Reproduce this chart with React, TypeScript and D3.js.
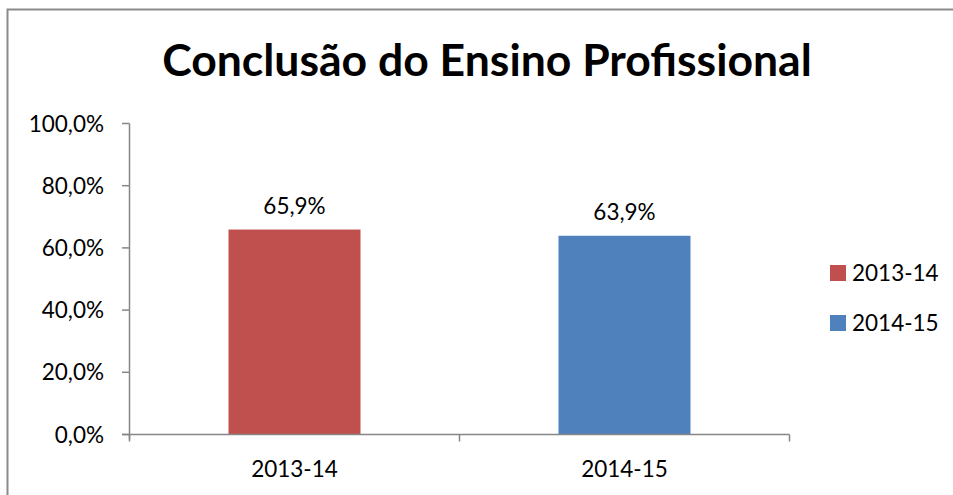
import React, { useEffect, useRef } from 'react';
import * as d3 from 'd3';

const categories = ['2013-14', '2014-15'];
const values = [0.659, 0.639];
const colors = ['#C0504D', '#4F81BD'];
const yTicks = [0, 0.2, 0.4, 0.6, 0.8, 1.0];

const fmt = (v: number) => (v * 100).toFixed(1).replace('.', ',') + '%';

const App = () => {
  const ref = useRef<SVGSVGElement>(null);

  useEffect(() => {
    const svg = d3.select(ref.current);
    svg.selectAll('*').remove();

    const font = 'Lato, "Open Sans", sans-serif';
    const axisColor = '#868686';
    const fs = 22.5;

    // chart border
    svg.append('rect')
      .attr('x', 7.5).attr('y', 9.5)
      .attr('width', 960).attr('height', 500)
      .attr('fill', 'white').attr('stroke', '#8a8a8a').attr('stroke-width', 2);

    // title
    svg.append('text')
      .attr('x', 487).attr('y', 76)
      .attr('text-anchor', 'middle')
      .attr('font-family', font).attr('font-weight', 'bold').attr('font-size', 44.5)
      .attr('fill', '#000')
      .text('Conclusão do Ensino Profissional');

    const x = d3.scaleBand().domain(categories).range([129.5, 789.5]).paddingInner(0).paddingOuter(0);
    const y = d3.scaleLinear().domain([0, 1]).range([434.5, 123.5]);
    const barW = x.bandwidth() / 2.5;

    // y axis
    svg.append('line')
      .attr('x1', 129.5).attr('x2', 129.5).attr('y1', y(1)).attr('y2', y(0) + 5)
      .attr('stroke', axisColor).attr('stroke-width', 1.5);
    svg.selectAll('.ytick').data(yTicks).enter().append('line')
      .attr('x1', 122).attr('x2', 129.5).attr('y1', (d) => y(d)).attr('y2', (d) => y(d))
      .attr('stroke', axisColor).attr('stroke-width', 1.5);
    svg.selectAll('.ylab').data(yTicks).enter().append('text')
      .attr('x', 104).attr('y', (d) => y(d) + 8)
      .attr('text-anchor', 'end')
      .attr('font-family', font).attr('font-size', fs)
      .text((d) => fmt(d));

    // bars
    svg.selectAll('.bar').data(categories).enter().append('rect')
      .attr('x', (d) => (x(d) as number) + (x.bandwidth() - barW) / 2)
      .attr('y', (d, i) => y(values[i]))
      .attr('width', barW)
      .attr('height', (d, i) => y(0) - y(values[i]))
      .attr('fill', (d, i) => colors[i]);

    // value labels
    svg.selectAll('.vlab').data(categories).enter().append('text')
      .attr('x', (d) => (x(d) as number) + x.bandwidth() / 2)
      .attr('y', (d, i) => y(values[i]) - 16)
      .attr('text-anchor', 'middle')
      .attr('font-family', font).attr('font-size', fs)
      .text((d, i) => fmt(values[i]));

    // x axis
    svg.append('line')
      .attr('x1', 122).attr('x2', 789.5).attr('y1', y(0)).attr('y2', y(0))
      .attr('stroke', axisColor).attr('stroke-width', 1.5);
    const xEdges = [...categories.map((c) => x(c) as number), 789.5];
    svg.selectAll('.xtick').data(xEdges).enter().append('line')
      .attr('x1', (d) => d).attr('x2', (d) => d).attr('y1', y(0)).attr('y2', y(0) + 7)
      .attr('stroke', axisColor).attr('stroke-width', 1.5);
    svg.selectAll('.xlab').data(categories).enter().append('text')
      .attr('x', (d) => (x(d) as number) + x.bandwidth() / 2)
      .attr('y', 477)
      .attr('text-anchor', 'middle')
      .attr('font-family', font).attr('font-size', fs)
      .text((d) => d);

    // legend
    const leg = svg.selectAll('.leg').data(categories).enter().append('g')
      .attr('transform', (d, i) => `translate(830, ${265 + i * 50})`);
    leg.append('rect').attr('width', 16).attr('height', 16).attr('fill', (d, i) => colors[i]);
    leg.append('text')
      .attr('x', 22).attr('y', 16)
      .attr('font-family', font).attr('font-size', fs)
      .text((d) => d);
  }, []);

  return (
    <svg ref={ref} width={953} height={495} style={{ position: 'absolute', left: 0, top: 0 }} />
  );
};

export default App;
